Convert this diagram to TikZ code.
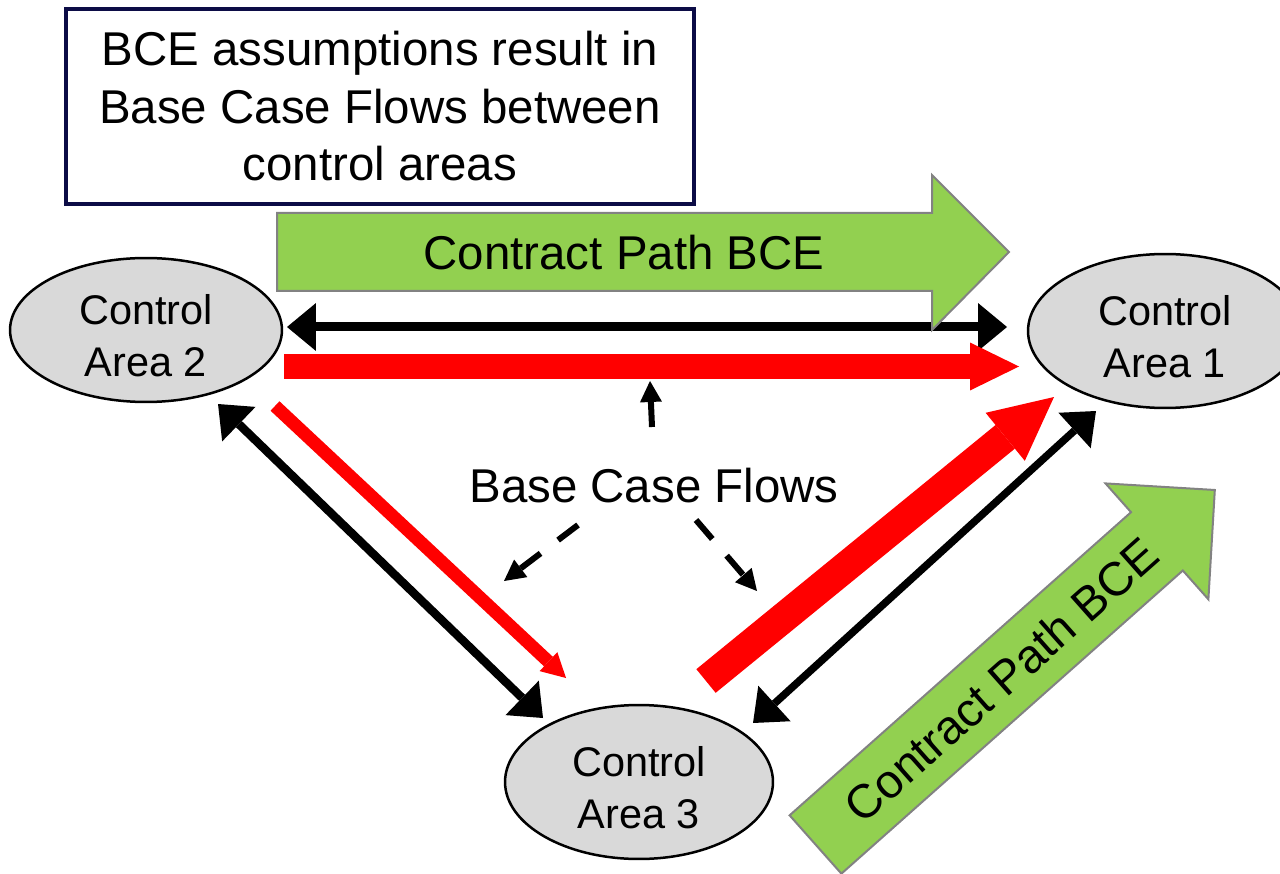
\documentclass[tikz,border=0pt]{standalone}
\usepackage{fontspec}
\setmainfont{Liberation Sans}
\usetikzlibrary{arrows.meta,shapes.geometric}
\definecolor{cpgreen}{RGB}{146,208,80}
\definecolor{cpgray}{RGB}{130,130,130}
\definecolor{areafill}{RGB}{217,217,217}
\definecolor{boxnavy}{RGB}{12,12,70}
\definecolor{flowred}{RGB}{255,0,0}
\begin{document}
\begin{tikzpicture}[x=0.02cm,y=-0.02cm,
  area/.style={ellipse, draw=black, line width=0.05cm, fill=areafill, inner sep=0pt,
    align=center, font=\fontsize{23.6pt}{29.6pt}\selectfont},
  bigtext/.style={font=\fontsize{27pt}{32.7pt}\selectfont, inner sep=0pt},
  cparrow/.style={fill=cpgreen, draw=cpgray, line width=0.04cm, line join=miter},
  blkflow/.style={line width=#1, draw=black,
    {Triangle[length=0.58cm,width=0.96cm,line width=0pt]}-{Triangle[length=0.58cm,width=0.96cm,line width=0pt]}},
  pointer/.style={line width=0.12cm, draw=black, -{Triangle[length=0.42cm,width=0.44cm,line width=0pt]}},
  dashptr/.style={pointer, dash pattern=on 0.5cm off 0.44cm}
]
\useasboundingbox (0,0) rectangle (1280,874);

% title box
\node[draw=boxnavy, line width=0.08cm, fill=white, minimum width=12.56cm, minimum height=3.9cm,
      inner sep=0pt, align=center, font=\fontsize{27pt}{32.7pt}\selectfont] (note) at (380,106.5)
      {BCE assumptions result in\\Base Case Flows between\\control areas};

% control areas
\node[area, minimum width=5.44cm, minimum height=2.88cm] (a2) at (146,330) {\rule{0pt}{0.84cm}Control\\Area 2};
\node[area, minimum width=5.48cm, minimum height=3.08cm] (a1) at (1165,331) {\rule{0pt}{0.84cm}Control\\Area 1};
\node[area, minimum width=5.36cm, minimum height=3.08cm] (a3) at (639,782) {\rule{0pt}{0.84cm}Control\\Area 3};

% end points of the flows
\coordinate (h1) at (287,327);
\coordinate (h2) at (1007,327);
\coordinate (r1s) at (284,366.5);
\coordinate (r1e) at (1019,366.5);
\coordinate (d1) at (218,404);
\coordinate (d2) at (543,718);
\coordinate (r2s) at (275,406);
\coordinate (r2e) at (566,678);
\coordinate (r3s) at (706,681);
\coordinate (r3e) at (1054,397);
\coordinate (e1) at (1096,411);
\coordinate (e2) at (753,723);

% black two-way flows
\draw[blkflow=0.18cm] (h1) -- (h2);
\draw[blkflow=0.17cm] (d1) -- (d2);
\draw[blkflow=0.15cm] (e1) -- (e2);

% red flows
\draw[flowred, line width=0.5cm, -{Triangle[length=0.98cm,width=0.96cm,line width=0pt]}] (r1s) -- (r1e);
\draw[flowred, line width=0.26cm, -{Triangle[length=0.48cm,width=0.52cm,line width=0pt]}] (r2s) -- (r2e);
\draw[flowred, line width=0.61cm, -{Triangle[length=1.26cm,width=1.24cm,line width=0pt]}] (r3s) -- (r3e);

% contract path arrows
\draw[cparrow] (277,213) -- (932,213) -- (932,175) -- (1009,252) -- (932,330) -- (932,291) -- (277,291) -- cycle;
\node[bigtext, anchor=base] (cp1) at (624,270) {Contract Path BCE};

\begin{scope}[shift={(815.5,844.5)}, rotate=41.6]
  \draw[cparrow] (0,-39) -- (456.6,-39) -- (456.6,-77.5) -- (534,0) -- (456.6,77.5) -- (456.6,39) -- (0,39) -- cycle;
  \node[bigtext, anchor=base, transform shape] (cp2) at (248,17.5) {Contract Path BCE};
\end{scope}

% base case flows label and pointers
\node[bigtext, anchor=base] (bcf) at (654,502) {Base Case Flows};
\coordinate (p0s) at (652,427);
\coordinate (p0e) at (650,381);
\coordinate (p1s) at (578,525);
\coordinate (p1e) at (504,581);
\coordinate (p2s) at (696,520);
\coordinate (p2e) at (757,591);
\draw[pointer] (p0s) -- (p0e);
\draw[dashptr] (p1s) -- (p1e);
\draw[dashptr] (p2s) -- (p2e);
\end{tikzpicture}
\end{document}
